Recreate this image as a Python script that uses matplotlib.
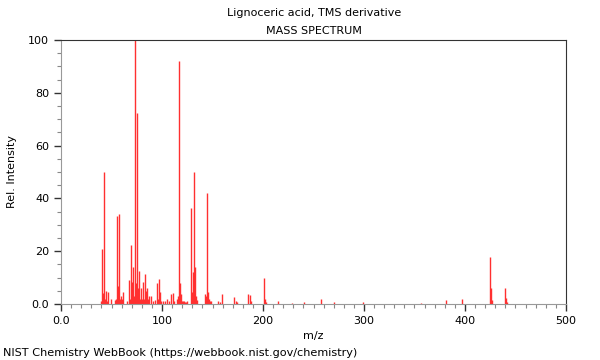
import matplotlib
matplotlib.use('Agg')
import matplotlib.pyplot as plt
from matplotlib.ticker import MultipleLocator

title = 'Lignoceric acid, TMS derivative'
subtitle = 'MASS SPECTRUM'
footer = 'NIST Chemistry WebBook (https://webbook.nist.gov/chemistry)'

# peak list
mz = [40, 41, 42, 43, 44, 45, 46, 47, 49, 53, 54, 55, 56, 57, 58, 59, 60, 61,
      65, 67, 68, 69, 70, 71, 72, 73, 74, 75, 76, 77, 78, 79, 80, 81, 82, 83,
      84, 85, 86, 87, 89, 91, 93, 95, 96, 97, 98, 99, 101, 103, 105, 107, 109,
      111, 112, 115, 116, 117, 118, 119, 120, 121, 122, 123, 124, 125, 129, 130,
      131, 132, 133, 134, 135, 143, 144, 145, 146, 147, 148, 149, 155, 157, 159,
      171, 173, 174, 185, 187, 188, 201, 202, 203, 215, 229, 241, 257, 270, 299,
      356, 381, 397, 425, 426, 427, 440, 441, 442]
intensity = [1.3, 21, 4, 50, 2, 5, 1, 4.5, 2, 1.5, 2, 33.5, 7, 34, 2, 3, 2, 4.5,
             1, 9, 2, 22.5, 8.5, 14, 3, 100, 8, 72.5, 6, 12.5, 2, 6, 2, 8.5, 2, 11.5,
             5, 6, 2, 3, 3, 1, 1.5, 8, 2, 9.5, 4.4, 1, 1.3, 1, 2, 1, 3.7,
             4, 1, 2, 3, 92, 8, 3.7, 1, 1, 1, 0.8, 0.8, 1, 36.5, 4.5,
             12.3, 50, 14, 3, 1.5, 3.9, 3, 42, 4.7, 2, 1.3, 1, 1, 0.7, 3.8,
             2.5, 1, 0.7, 3.9, 3.3, 1.3, 9.7, 2, 0.8, 1, 0.5, 0.6, 1.7, 0.8, 0.6,
             0.5, 1.4, 1.8, 17.7, 6.1, 1.5, 6.1, 2.3, 0.7]

fig = plt.figure(figsize=(6, 3.6), dpi=100)
ax = fig.add_axes([0.1017, 0.1556, 0.8416, 0.7333])

ax.vlines(mz, 0, intensity, color='#ff3030', linewidth=1.0)

ax.set_xlim(0, 500)
ax.set_ylim(0, 100)
ax.xaxis.set_minor_locator(MultipleLocator(10))
ax.yaxis.set_minor_locator(MultipleLocator(5))

ax.set_xticks([0, 100, 200, 300, 400, 500])
ax.set_xticklabels(['0.0', '100', '200', '300', '400', '500'])
ax.set_yticks([0, 20, 40, 60, 80, 100])
ax.set_yticklabels(['0.0', '20', '40', '60', '80', '100'])

ax.tick_params(which='major', length=5, width=1, labelsize=8, color='#333333')
ax.tick_params(which='minor', length=3, width=0.8, color='#888888')

for side in ['left', 'bottom']:
    ax.spines[side].set_color('#999999')
for side in ['top', 'right']:
    ax.spines[side].set_color('#333333')

ax.set_xlabel('m/z', fontsize=8)
ax.set_ylabel('Rel. Intensity', fontsize=8)
ax.yaxis.set_label_coords(-0.088, 0.5)

fig.text(0.523, 0.963, title, ha='center', va='center', fontsize=8)
fig.text(0.523, 0.915, subtitle, ha='center', va='center', fontsize=8)
fig.text(0.005, 0.02, footer, ha='left', va='center', fontsize=8.15)

fig.savefig('out.png', dpi=100)
